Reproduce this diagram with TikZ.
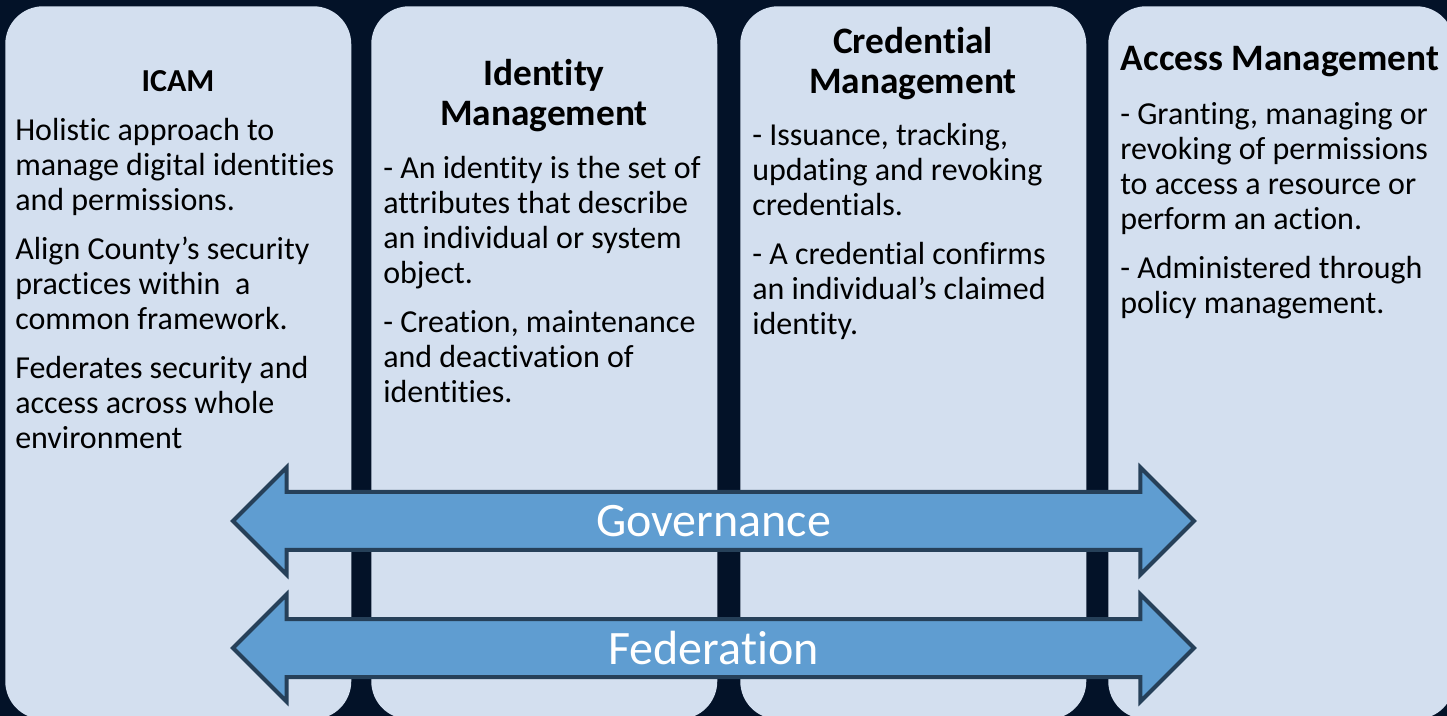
\documentclass[tikz,border=0pt]{standalone}
\usepackage{fontspec}
\setmainfont{Carlito}[Ligatures=NoCommon]
\usetikzlibrary{shapes.arrows}
\definecolor{navy}{HTML}{031228}
\definecolor{panelblue}{HTML}{D3DFEF}
\definecolor{bandblue}{HTML}{5F9DD1}
\definecolor{bandline}{HTML}{264059}
\tikzset{
    panel/.style={rectangle, rounded corners=28.5pt, fill=panelblue, minimum width=259.5pt, minimum height=534.75pt, anchor=north west, inner sep=0pt}, % one column of the diagram
    heading/.style={font=\bfseries\fontsize{28}{30.5}\selectfont, align=center, anchor=base, inner sep=0pt}, % column titles, base = last line
    body/.style={font=\fontsize{24}{26.25}\selectfont, align=left, anchor=base west, inner sep=0pt}, % column texts, base = last line
    band/.style={double arrow, draw=bandline, line width=3pt, fill=bandblue, text=white, font=\fontsize{36}{40}\selectfont, text height=32.25pt, text depth=8.25pt, minimum height=720.75pt, minimum width=78pt, double arrow head extend=18.4pt, double arrow tip angle=90, inner sep=0pt}, % the two wide arrows
}

\begin{document}
\begin{tikzpicture}[x=0.75pt, y=-0.75pt]
        \useasboundingbox (0,0) rectangle (1447,716);
        \clip (0,0) rectangle (1447,716);
        \fill[navy] (0,0) rectangle (1447,716);

        % columns
        \node[panel] (icam) at (5,6) {};
        \node[panel] (idm) at (371,6) {};
        \node[panel] (crm) at (740,6) {};
        \node[panel] (acm) at (1108,6) {};

        \node[heading, font=\bfseries\fontsize{24}{27}\selectfont] (icamtitle) at (178,91.5) {ICAM};
        \node[body] (icamtext) at (15,448.5) {Holistic approach to\\manage digital identities\\and permissions.\\[10.5pt]Align County’s security\\practices within\ \ a\\common framework.\\[10.5pt]Federates security and\\access across whole\\environment};

        \node[heading] (idmtitle) at (544,126) {Identity\\Management};
        \node[body] (idmtext) at (383,402.5) {- An identity is the set of\\attributes that describe\\an individual or system\\object.\\[10.5pt]- Creation, maintenance\\and deactivation of\\identities.};

        \node[heading] (crmtitle) at (913,94) {Credential\\Management};
        \node[body] (crmtext) at (752,335) {- Issuance, tracking,\\updating and revoking\\credentials.\\[10.5pt]- A credential confirms\\an individual’s claimed\\identity.};

        \node[heading] (acmtitle) at (1280,71) {Access Management};
        \node[body] (acmtext) at (1120,314) {- Granting, managing or\\revoking of permissions\\to access a resource or\\perform an action.\\[10.5pt]- Administered through\\policy management.};

        % arrows across the columns
        \node[band] (governance) at (713.5,521) {Governance};
        \node[band] (federation) at (713.5,648) {Federation};
    \end{tikzpicture}
\end{document}
